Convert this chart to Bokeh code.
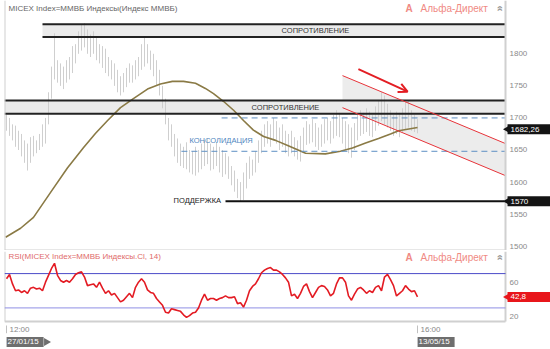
import math
from bokeh.plotting import figure
from bokeh.layouts import column
from bokeh.models import Span, Arrow, OpenHead, Range1d
from bokeh.embed import file_html
from bokeh.resources import INLINE
from bokeh.core.properties import value

# ---------------- data ----------------
bar_high = [1705, 1700, 1690, 1688, 1680, 1675, 1665, 1660, 1670, 1672, 1665, 1675, 1690, 1700,
            1740, 1780, 1832, 1790, 1785, 1780, 1790, 1795, 1812, 1815,
            1835, 1845, 1848, 1838, 1830, 1835, 1825, 1815,
            1812, 1808, 1795, 1790, 1785, 1775, 1765, 1770,
            1778, 1785, 1782, 1790, 1795, 1815, 1825,
            1815, 1805, 1800, 1790, 1775, 1750, 1730,
            1700, 1690, 1675, 1668, 1660, 1655, 1662, 1650, 1648, 1655, 1650, 1660, 1665, 1668,
            1660, 1655, 1662, 1655, 1650, 1645, 1640,
            1625, 1618, 1605, 1600, 1615, 1630, 1640, 1635, 1648, 1665, 1680, 1690,
            1695, 1690, 1700, 1695, 1685, 1690, 1680, 1675, 1680, 1670, 1665, 1672, 1685, 1695,
            1690, 1698, 1692, 1685, 1690, 1698, 1700, 1695, 1705, 1712, 1708,
            1700, 1695, 1690, 1685, 1692, 1705, 1712, 1708, 1715, 1710, 1705, 1718, 1728, 1740,
            1735, 1722, 1712, 1705, 1710, 1708, 1715, 1725, 1728, 1712, 1705, 1698]
bar_low = [1680, 1672, 1665, 1655, 1650, 1640, 1630, 1618, 1630, 1640, 1645, 1650, 1655, 1660,
           1690, 1730, 1760, 1755, 1750, 1745, 1755, 1760, 1770, 1785,
           1800, 1805, 1810, 1800, 1795, 1800, 1790, 1785,
           1778, 1770, 1765, 1760, 1750, 1740, 1735, 1740,
           1748, 1755, 1755, 1760, 1765, 1775, 1780,
           1785, 1775, 1765, 1750, 1735, 1715, 1690,
           1665, 1655, 1640, 1630, 1625, 1622, 1620, 1615, 1612, 1610, 1615, 1620, 1625, 1628,
           1618, 1620, 1625, 1615, 1608, 1612, 1605,
           1595, 1585, 1575, 1570, 1572, 1590, 1605, 1610, 1615, 1630, 1645, 1655,
           1660, 1655, 1665, 1660, 1650, 1655, 1645, 1640, 1645, 1640, 1635, 1632, 1648, 1658,
           1660, 1662, 1655, 1650, 1655, 1660, 1665, 1660, 1668, 1672, 1670,
           1660, 1650, 1645, 1638, 1650, 1665, 1672, 1675, 1678, 1672, 1670, 1680, 1688, 1695,
           1690, 1685, 1680, 1672, 1675, 1670, 1678, 1682, 1685, 1680, 1678, 1676]
rsi = [64, 69, 58, 50, 51, 48, 50, 47, 53, 54, 52, 53, 50, 60, 68, 76, 82, 68, 62, 60,
       62, 60, 64, 69, 71, 72, 66, 56, 57, 58, 54, 60, 53, 47, 50, 45, 47, 42, 37, 39,
       43, 47, 42, 54, 60, 64, 60, 51, 48, 47, 41, 37, 33, 25, 24, 29, 28, 27, 26, 22,
       19, 21, 24, 25, 30, 39, 46, 39, 41, 41, 39, 41, 42, 44, 42, 42, 43, 35, 36, 31,
       39, 50, 55, 58, 64, 71, 74, 76, 77, 74, 74, 72, 69, 65, 60, 44, 46, 41, 47, 55,
       58, 49, 42, 48, 54, 56, 55, 51, 44, 47, 58, 65, 65, 60, 44, 39, 46, 52, 54, 51,
       47, 50, 48, 54, 56, 50, 66, 69, 63, 56, 44, 47, 50, 56, 52, 49, 50, 42.8]
ma_bar = [-0.3, 4.7, 9, 14.7, 20.3, 25.7, 29.7, 33.7, 38, 42.3, 47, 51.3, 55.3, 59, 63, 66.3,
          69, 72.3, 75.7, 79, 82.3, 85.7, 89.7, 94.7, 99.7, 106.3, 111.3, 115.3, 119.7, 124,
          128, 130.7, 137]
ma_val = [1514, 1528, 1545, 1584, 1622, 1654, 1676, 1696, 1716, 1730, 1745, 1753, 1757, 1757,
          1754, 1746, 1738, 1726, 1712, 1696, 1681, 1671, 1665, 1655, 1645, 1644, 1648, 1653,
          1661, 1668, 1675, 1680, 1685]

price_ticks = [1500, 1550, 1600, 1650, 1700, 1750, 1800]
rsi_ticks = [20, 60]
last_close = 1682.26
last_close_label = "1682,26"
last_rsi = 42.8
last_rsi_label = "42,8"
support_level = 1570
resist_top_zone = (1826, 1846)
resist_mid_zone = (1706.5, 1727)
consol_levels = (1648, 1700)
channel_upper = (1766, 1660)
channel_lower = (1716, 1610)
rsi_levels = (30, 70)
time_labels = ["12:00", "16:00"]
date_labels = ["27/01/15", "13/05/15"]

idx = list(range(len(bar_high)))
last_i = idx[-1]

FONT = "Liberation Sans"
AXC = "#8a8a8a"
X0, X1, XE = -0.667, 166.333, 181.333   # frame left, price-axis line, canvas right
xr = Range1d(X0, XE)
TAG_X = X1 + 23.5 / 3                    # centre of the value tags


def txt(fig, x, y, text, color, size="7.5px", align="left", **kw):
    fig.text(x=x, y=y, text=text, text_color=color, text_font=value(FONT),
             text_font_size=size, text_baseline="middle", text_align=align, **kw)


def axis_tag(fig, y, label, color):
    fig.rect(x=[TAG_X], y=[y], width=43, height=10, width_units="screen", height_units="screen",
             fill_color=color, line_color=None)
    fig.scatter(x=[X1 + 0.9], y=[y], marker="triangle", size=9, angle=math.pi / 2,
                fill_color=color, line_color=None)
    txt(fig, [X1], [y], [label], "white", "8px", x_offset=5)


def new_fig(height, yr, top):
    f = figure(width=550, height=height, x_range=xr, y_range=yr, output_backend="svg",
               toolbar_location=None, x_axis_location=None, y_axis_location=None,
               min_border_left=4, min_border_right=0, min_border_top=top, min_border_bottom=0)
    f.grid.visible = False
    f.outline_line_color = None
    f.background_fill_color = "white"
    f.border_fill_color = "white"
    return f

# ---------------- main panel ----------------
P0, P1 = 1493.3, 1883.1
p = new_fig(250, Range1d(P0, P1), 0)

p.quad(left=[12], right=[X1], bottom=[resist_top_zone[0]], top=[resist_top_zone[1]],
       fill_color="#ebebeb", line_color=None)
p.quad(left=[X0], right=[X1], bottom=[resist_mid_zone[0]], top=[resist_mid_zone[1]],
       fill_color="#ebebeb", line_color=None)
p.patch([112, X1, X1, 112], [channel_upper[0], channel_upper[1], channel_lower[1], channel_lower[0]],
        fill_color="#ececec", line_color=None)

p.segment(x0=idx, y0=bar_low, x1=idx, y1=bar_high, line_color="#cfcfcf", line_width=1)
p.line(ma_bar, ma_val, line_color="#8a7a45", line_width=1.6)

p.segment(x0=[12, 12, X0, X0], y0=[resist_top_zone[0], resist_top_zone[1], resist_mid_zone[0], resist_mid_zone[1]],
          x1=[X1] * 4, y1=[resist_top_zone[0], resist_top_zone[1], resist_mid_zone[0], resist_mid_zone[1]],
          line_color="#222222", line_width=2)
p.segment(x0=[58.3, 71.7], y0=[consol_levels[0], consol_levels[1]], x1=[X1, X1],
          y1=[consol_levels[0], consol_levels[1]], line_color="#5d8fc4", line_width=1, line_dash="6 4")
p.segment(x0=[73], y0=[support_level], x1=[X1], y1=[support_level], line_color="#111111", line_width=2)
p.segment(x0=[112, 112], y0=[channel_upper[0], channel_lower[0]], x1=[X1, X1],
          y1=[channel_upper[1], channel_lower[1]], line_color="#e8343a", line_width=1)
p.add_layout(Arrow(end=OpenHead(size=9, line_color="#e31e24", line_width=2),
                   x_start=117.3, y_start=1776, x_end=133.7, y_end=1741,
                   line_color="#e31e24", line_width=2))

# pane borders and price scale
p.segment(x0=[X0, X1, X0], y0=[P0, P0, P0], x1=[X0, X1, X1], y1=[P1, P1, P0],
          line_color="#d0d0d0", line_width=2)
txt(p, [X1] * len(price_ticks), price_ticks, [str(t) for t in price_ticks], AXC, "8px", x_offset=4)
axis_tag(p, last_close, last_close_label, "#141414")
axis_tag(p, support_level, str(support_level), "#141414")

txt(p, [0.67], [1870.7], ["MICEX Index=ММВБ Индексы(Индекс ММВБ)"], "#666666", "8px")
txt(p, [91.7], [1836], ["СОПРОТИВЛЕНИЕ"], "#333333")
txt(p, [81.7], [1716.7], ["СОПРОТИВЛЕНИЕ"], "#333333")
txt(p, [61], [1665], ["КОНСОЛИДАЦИЯ"], "#4f86c0")
txt(p, [55.7], [1571], ["ПОДДЕРЖКА"], "#222222")
txt(p, [133], [1870.7], ["A"], "#f08a84", "10px", text_font_style="bold")
txt(p, [138], [1870.7], ["Альфа-Директ"], "#f08a84", "10px")
txt(p, [164.3], [1870.7], ["»"], "#9a9a9a", "11px", align="center", angle=math.pi / 2,
    text_font_style="bold")

# ---------------- RSI panel ----------------
R0, R1 = -18.46, 95.76
RB = 14.17  # bottom of the RSI pane
r = new_fig(99, Range1d(R0, R1), 1)

r.segment(x0=[X0, X1, X0], y0=[RB, RB, RB], x1=[X0, X1, X1], y1=[R1, R1, RB],
          line_color="#d0d0d0", line_width=2)
r.segment(x0=[X0, X0], y0=[rsi_levels[1], rsi_levels[0]], x1=[X1, X1],
          y1=[rsi_levels[1], rsi_levels[0]], line_color=["#4a4ac8", "#8e8ee4"], line_width=1)
r.line(idx, rsi, line_color="#e31b23", line_width=1.6)

txt(r, [X1] * len(rsi_ticks), rsi_ticks, [str(t) for t in rsi_ticks], AXC, "8px", x_offset=4)
axis_tag(r, last_rsi, last_rsi_label, "#e8161b")

txt(r, [0.67], [89.9], ["RSI(MICEX Index=ММВБ Индексы.Cl, 14)"], "#e06a6a", "8px")
txt(r, [133], [88.8], ["A"], "#f08a84", "10px", text_font_style="bold")
txt(r, [138], [88.8], ["Альфа-Директ"], "#f08a84", "10px")
txt(r, [164.3], [88.8], ["»"], "#9a9a9a", "11px", align="center", angle=math.pi / 2,
    text_font_style="bold")

# time ticks and date boxes
tick_x = [0, last_i]
r.segment(x0=tick_x, y0=[9.5, 9.5], x1=tick_x, y1=[0.5, 0.5], line_color="#c0c0c0", line_width=1)
txt(r, tick_x, [4.85, 4.85], time_labels, "#888888", "8px", x_offset=3)
r.rect(x=[0 + 6.2, last_i + 6.2], y=[-9.7, -9.7], width=[37, 37], height=10,
       width_units="screen", height_units="screen", fill_color="#6e6e6e", line_color=None)
r.scatter(x=[0 + 13.3], y=[-9.7], marker="triangle", size=8, angle=-math.pi / 2,
          fill_color="#6e6e6e", line_color=None)
txt(r, tick_x, [-9.7, -9.7], date_labels, "white", "8px", x_offset=1)

layout = column(p, r, spacing=0)
open("out.html", "w").write(file_html(layout, INLINE))
